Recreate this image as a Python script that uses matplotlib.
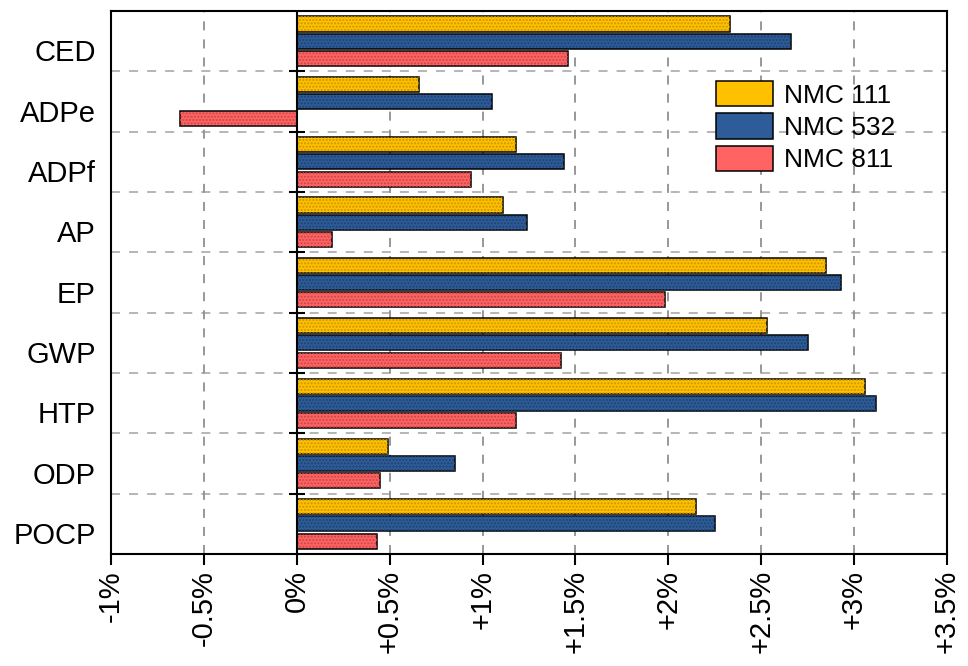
import matplotlib.pyplot as plt
import matplotlib.transforms as mtransforms
import numpy as np

plt.rcParams['font.family'] = ['Liberation Sans', 'DejaVu Sans']

categories = ['CED', 'ADPe', 'ADPf', 'AP', 'EP', 'GWP', 'HTP', 'ODP', 'POCP']
series = ['NMC 111', 'NMC 532', 'NMC 811']
nmc111 = [2.33, 0.66, 1.18, 1.11, 2.85, 2.53, 3.06, 0.49, 2.15]
nmc532 = [2.66, 1.05, 1.44, 1.24, 2.93, 2.75, 3.12, 0.85, 2.25]
nmc811 = [1.46, -0.63, 0.94, 0.19, 1.98, 1.42, 1.18, 0.45, 0.43]
xticks = [-1, -0.5, 0, 0.5, 1, 1.5, 2, 2.5, 3, 3.5]

colors = ['#FFC000', '#2E5C98', '#FF6363']
hatch_colors = ['#C89600', '#1F426E', '#C84848']

fig = plt.figure(figsize=(9.68, 6.66), dpi=100)
ax = fig.add_axes([0.1147, 0.168, 0.8636, 0.8155])

y = np.arange(len(categories))
h = 0.25
step = 0.285
for i, (name, vals) in enumerate(zip(series, [nmc111, nmc532, nmc811])):
    pos = y + (i - 1) * step
    ax.barh(pos, vals, h, color=colors[i], edgecolor='black', lw=1.1,
            label=name, zorder=3)
    ax.barh(pos, vals, h, color='none', edgecolor=hatch_colors[i], lw=0,
            hatch='.....', zorder=3.5)

ax.set_xlim(-1, 3.5)
ax.set_ylim(len(categories) - 0.5, -0.5)

bounds = np.arange(len(categories) - 1) + 0.5
for b in bounds:
    ax.axhline(b, color='#b0b0b0', ls=(0, (5, 5)), lw=1.3, zorder=1)
for xt in xticks[1:-1]:
    if xt != 0:
        ax.axvline(xt, color='#909090', ls=(0, (5, 5)), lw=1.3, zorder=1)
ax.axvline(0, color='black', lw=1.5, zorder=4)
ax.plot([0] * len(bounds), bounds, ls='none', marker='_', ms=12,
        mew=1.5, color='black', zorder=4)

ax.set_yticks(y)
ax.set_yticklabels(categories, fontsize=21)
ax.tick_params(axis='y', length=0, pad=11)
shift = mtransforms.ScaledTranslation(0, -0.09, fig.dpi_scale_trans)
for lab in ax.get_yticklabels():
    lab.set_transform(lab.get_transform() + shift)
ax.set_xticks(xticks)
ax.set_xticklabels([('+' if v > 0 else '') + ('%g' % v) + '%' for v in xticks],
                   rotation=90, fontsize=21)
ax.tick_params(axis='x', direction='out', length=8, width=1.5)
for s in ax.spines.values():
    s.set_linewidth(1.5)

handles, labels = ax.get_legend_handles_labels()
ax.legend(handles, labels, loc='upper right', bbox_to_anchor=(0.966, 0.915),
          fontsize=19, frameon=False, handlelength=2.15, handleheight=1.1,
          handletextpad=0.4, labelspacing=0.22)

fig.savefig('out.png', dpi=100)
